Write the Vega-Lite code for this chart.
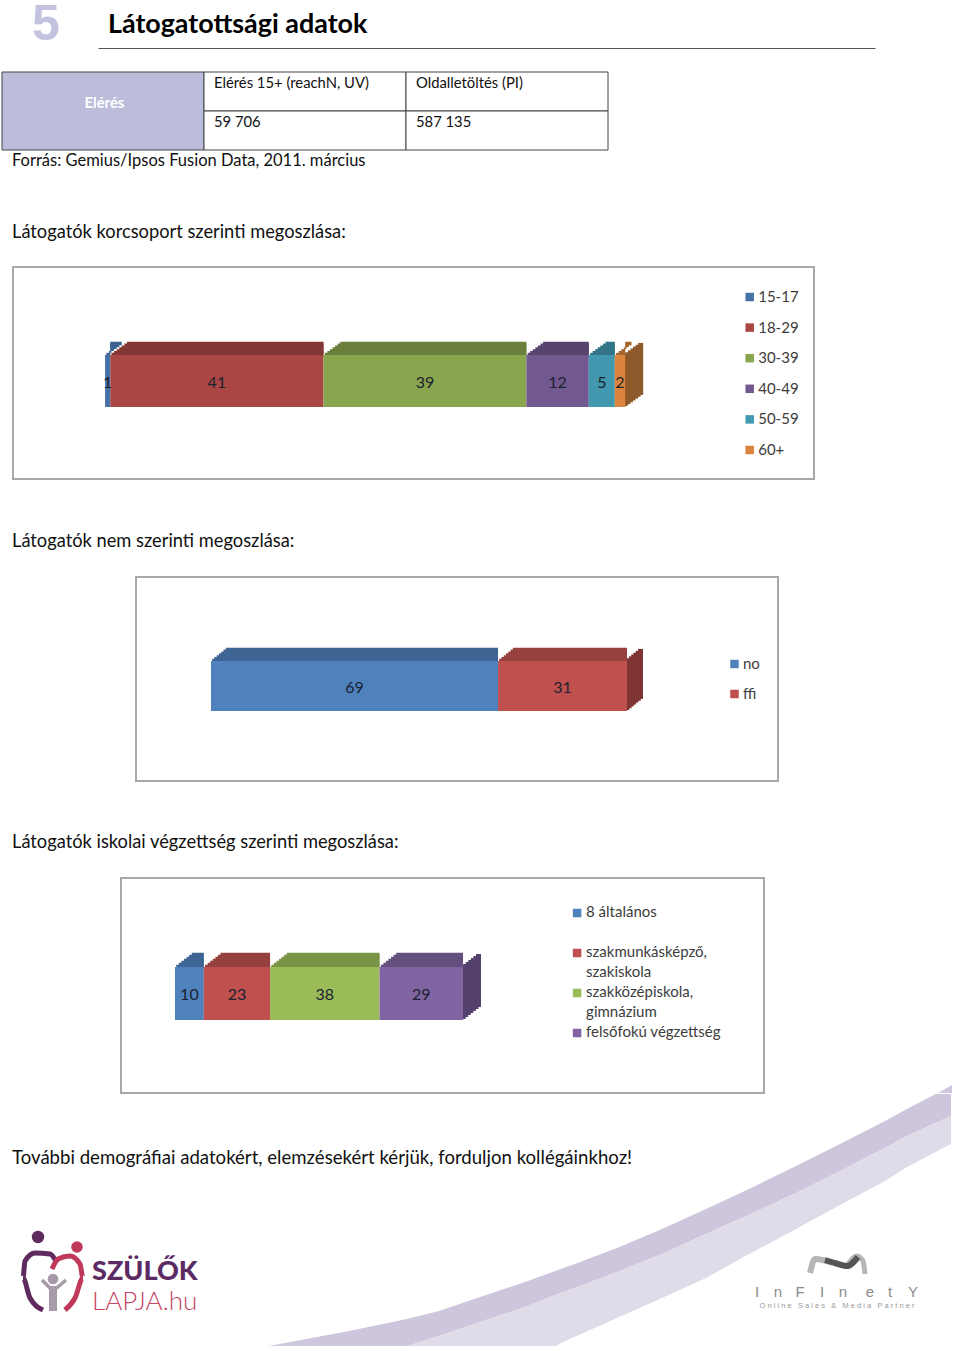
{"$schema":"https://vega.github.io/schema/vega-lite/v6.json","padding":0,"background":"white","spacing":0,
"resolve":{"scale":{"color":"independent","fill":"independent","size":"independent","y":"independent"}},
"config":{"font":"Lato","view":{"stroke":null},"tick":{"opacity":1},"bar":{"opacity":1},"square":{"opacity":1},"text":{"font":"Lato"}},
"vconcat":[
{"spacing":0,"hconcat":[
{"width":98,"height":48,"data":{"values":[{"t":"5"}]},"mark":{"type":"text","font":"Liberation Sans","fontWeight":"bold","fontSize":50,"color":"#C3C3DF","dx":-3,"dy":1,"clip":true},"encoding":{"text":{"field":"t"}}},
{"width":777,"height":48,"data":{"values":[{"t":"Látogatottsági adatok"}]},"mark":{"type":"text","align":"left","fontWeight":"bold","fontSize":26.9,"color":"#000","dx":10,"dy":1},"encoding":{"text":{"field":"t"},"x":{"datum":0,"type":"quantitative","scale":{"domain":[0,1]},"axis":{"domain":true,"domainColor":"#555","ticks":false,"labels":false,"grid":false,"title":null}}}}
]},
{"width":10,"height":23,"data":{"values":[{}]},"mark":{"type":"text"},"encoding":{"text":{"value":""}}},
{"spacing":0,"hconcat":[
{"width":1,"height":78,"data":{"values":[{}]},"mark":{"type":"text"},"encoding":{"text":{"value":""}}},
{"width":606,"height":78,"layer":[
{"data":{"values":[{"c0":0,"c1":1,"r0":0,"r1":2}]},"mark":{"type":"rect","fill":"#BCBDDB","stroke":"#444","strokeWidth":1},"encoding":{"x":{"field":"c0","type":"quantitative","scale":{"domain":[0,3]},"axis":null},"x2":{"field":"c1"},"y":{"field":"r0","type":"quantitative","scale":{"domain":[0,2],"reverse":true},"axis":null},"y2":{"field":"r1"}}},
{"data":{"values":[{"c0":1,"c1":2,"r0":0,"r1":1},{"c0":2,"c1":3,"r0":0,"r1":1},{"c0":1,"c1":2,"r0":1,"r1":2},{"c0":2,"c1":3,"r0":1,"r1":2}]},"mark":{"type":"rect","fill":"#fff","stroke":"#444","strokeWidth":1},"encoding":{"x":{"field":"c0","type":"quantitative","axis":null},"x2":{"field":"c1"},"y":{"field":"r0","type":"quantitative","axis":null},"y2":{"field":"r1"}}},
{"data":{"values":[{"c":1,"r":0,"t":"Elérés 15+ (reachN, UV)"},{"c":2,"r":0,"t":"Oldalletöltés (PI)"},{"c":1,"r":1,"t":"59 706"},{"c":2,"r":1,"t":"587 135"}]},"mark":{"type":"text","align":"left","baseline":"middle","fontSize":14.8,"color":"#111","dx":10,"dy":12},"encoding":{"text":{"field":"t"},"x":{"field":"c","type":"quantitative","axis":null},"y":{"field":"r","type":"quantitative","axis":null}}},
{"data":{"values":[{"c":0.507,"r":0.81,"t":"Elérés"}]},"mark":{"type":"text","fontSize":14.8,"fontWeight":"bold","color":"#fff"},"encoding":{"text":{"field":"t"},"x":{"field":"c","type":"quantitative","axis":null},"y":{"field":"r","type":"quantitative","axis":null}}}
]}
]},
{"width":900,"height":20,"data":{"values":[{"t":"Forrás: Gemius/Ipsos Fusion Data, 2011. március"}]},"mark":{"type":"text","align":"left","fontSize":16.5,"color":"#111","dx":12},"encoding":{"text":{"field":"t"},"x":{"datum":0,"type":"quantitative","scale":{"domain":[0,1]},"axis":null}}},
{"width":10,"height":52,"data":{"values":[{}]},"mark":{"type":"text"},"encoding":{"text":{"value":""}}},
{"width":900,"height":20,"data":{"values":[{"t":"Látogatók korcsoport szerinti megoszlása:"}]},"mark":{"type":"text","align":"left","fontSize":18.3,"color":"#111","dx":12},"encoding":{"text":{"field":"t"},"x":{"datum":0,"type":"quantitative","scale":{"domain":[0,1]},"axis":null}}},
{"width":10,"height":23,"data":{"values":[{}]},"mark":{"type":"text"},"encoding":{"text":{"value":""}}},
{"spacing":0,"hconcat":[
{"width":12,"height":212,"data":{"values":[{}]},"mark":{"type":"text"},"encoding":{"text":{"value":""}}},
{"width":801,"height":212,"view":{"stroke":"#A8A8A8","strokeWidth":2},
"data":{"values":[{"g":"15-17","v":1,"o":1},{"g":"18-29","v":41,"o":2},{"g":"30-39","v":39,"o":3},{"g":"40-49","v":12,"o":4},{"g":"50-59","v":5,"o":5},{"g":"60+","v":2,"o":6}]},
"transform":[{"stack":"v","sort":[{"field":"o"}],"groupby":[],"as":["x0","x1"]}],
"layer":[
{"transform":[{"filter":"datum.o==6"}],"encoding":{"x":{"field":"x1","type":"quantitative","axis":null},"color":{"value":"#8F5A2B"}},"layer":[
{"mark":{"type":"tick","size":52,"thickness":5,"xOffset":15.49,"yOffset":-4.07}},{"mark":{"type":"tick","size":52,"thickness":5,"xOffset":12.92,"yOffset":-2.21}},{"mark":{"type":"tick","size":52,"thickness":5,"xOffset":10.35,"yOffset":-0.36}},{"mark":{"type":"tick","size":52,"thickness":5,"xOffset":7.78,"yOffset":1.5}},{"mark":{"type":"tick","size":52,"thickness":5,"xOffset":5.21,"yOffset":3.36}},{"mark":{"type":"tick","size":52,"thickness":5,"xOffset":2.64,"yOffset":5.21}},{"mark":{"type":"tick","size":52,"thickness":5,"xOffset":0.07,"yOffset":7.07}}]},
{"encoding":{"x":{"field":"x0","type":"quantitative","scale":{"domain":[-17.7,136.3],"nice":false,"zero":false},"axis":null},"x2":{"field":"x1"},"color":{"field":"g","type":"nominal","legend":null,"scale":{"domain":["15-17","18-29","30-39","40-49","50-59","60+"],"range":["#3B6290","#833634","#6B7F3D","#57446E","#327587","#A8662F"]}}},"layer":[
{"mark":{"type":"bar","size":3.6,"xOffset":16.71,"yOffset":-29.47}},{"mark":{"type":"bar","size":3.6,"xOffset":14.14,"yOffset":-27.61}},{"mark":{"type":"bar","size":3.6,"xOffset":11.57,"yOffset":-25.76}},{"mark":{"type":"bar","size":3.6,"xOffset":9,"yOffset":-23.9}},{"mark":{"type":"bar","size":3.6,"xOffset":6.43,"yOffset":-22.04}},{"mark":{"type":"bar","size":3.6,"xOffset":3.86,"yOffset":-20.19}},{"mark":{"type":"bar","size":3.6,"xOffset":1.29,"yOffset":-18.33}}]},
{"mark":{"type":"bar","size":52,"yOffset":8},"encoding":{"x":{"field":"x0","type":"quantitative","axis":null},"x2":{"field":"x1"},"fill":{"field":"g","type":"nominal","legend":null,"scale":{"domain":["15-17","18-29","30-39","40-49","50-59","60+"],"range":["#4572A7","#AA4643","#89A54E","#71588F","#4198AF","#DB843D"]}}}},
{"mark":{"type":"text","fontSize":16,"color":"#1b2230","yOffset":10},"encoding":{"x":{"field":"v","type":"quantitative","stack":"zero","bandPosition":0.5,"axis":null},"order":{"field":"o"},"detail":{"field":"g"},"text":{"field":"v"}}},
{"mark":{"type":"square","size":72,"filled":true},"encoding":{"x":{"datum":123.94,"type":"quantitative","axis":null},"y":{"field":"g","type":"nominal","axis":null,"scale":{"type":"point","padding":0,"domain":["15-17","18-29","30-39","40-49","50-59","60+"],"range":[30,183]}},"fill":{"field":"g","type":"nominal","legend":null}}},
{"mark":{"type":"text","align":"left","fontSize":15,"color":"#3c3c3c","dx":8.5},"encoding":{"x":{"datum":123.94,"type":"quantitative","axis":null},"y":{"field":"g","type":"nominal","axis":null},"text":{"field":"g"}}}
]}
]},
{"width":10,"height":52,"data":{"values":[{}]},"mark":{"type":"text"},"encoding":{"text":{"value":""}}},
{"width":900,"height":20,"data":{"values":[{"t":"Látogatók nem szerinti megoszlása:"}]},"mark":{"type":"text","align":"left","fontSize":18.3,"color":"#111","dx":12},"encoding":{"text":{"field":"t"},"x":{"datum":0,"type":"quantitative","scale":{"domain":[0,1]},"axis":null}}},
{"width":10,"height":24,"data":{"values":[{}]},"mark":{"type":"text"},"encoding":{"text":{"value":""}}},
{"spacing":0,"hconcat":[
{"width":135,"height":204,"data":{"values":[{}]},"mark":{"type":"text"},"encoding":{"text":{"value":""}}},
{"width":642,"height":204,"view":{"stroke":"#A8A8A8","strokeWidth":2},
"data":{"values":[{"g":"no","v":69,"o":1},{"g":"ffi","v":31,"o":2}]},
"transform":[{"stack":"v","sort":[{"field":"o"}],"groupby":[],"as":["x0","x1"]}],
"layer":[
{"transform":[{"filter":"datum.o==2"}],"encoding":{"x":{"field":"x1","type":"quantitative","axis":null},"color":{"value":"#7F3532"}},"layer":[
{"mark":{"type":"tick","size":50,"thickness":5,"xOffset":13.5,"yOffset":-5.07}},{"mark":{"type":"tick","size":50,"thickness":5,"xOffset":11.21,"yOffset":-3.21}},{"mark":{"type":"tick","size":50,"thickness":5,"xOffset":8.93,"yOffset":-1.36}},{"mark":{"type":"tick","size":50,"thickness":5,"xOffset":6.64,"yOffset":0.5}},{"mark":{"type":"tick","size":50,"thickness":5,"xOffset":4.36,"yOffset":2.36}},{"mark":{"type":"tick","size":50,"thickness":5,"xOffset":2.07,"yOffset":4.21}},{"mark":{"type":"tick","size":50,"thickness":5,"xOffset":-0.21,"yOffset":6.07}}]},
{"encoding":{"x":{"field":"x0","type":"quantitative","scale":{"domain":[-18.03,136.3],"nice":false,"zero":false},"axis":null},"x2":{"field":"x1"},"color":{"field":"g","type":"nominal","legend":null,"scale":{"domain":["no","ffi"],"range":["#3E6594","#964040"]}}},"layer":[
{"mark":{"type":"bar","size":3.6,"xOffset":14.86,"yOffset":-29.47}},{"mark":{"type":"bar","size":3.6,"xOffset":12.57,"yOffset":-27.61}},{"mark":{"type":"bar","size":3.6,"xOffset":10.29,"yOffset":-25.76}},{"mark":{"type":"bar","size":3.6,"xOffset":8,"yOffset":-23.9}},{"mark":{"type":"bar","size":3.6,"xOffset":5.71,"yOffset":-22.04}},{"mark":{"type":"bar","size":3.6,"xOffset":3.43,"yOffset":-20.19}},{"mark":{"type":"bar","size":3.6,"xOffset":1.14,"yOffset":-18.33}}]},
{"mark":{"type":"bar","size":50,"yOffset":7},"encoding":{"x":{"field":"x0","type":"quantitative","axis":null},"x2":{"field":"x1"},"fill":{"field":"g","type":"nominal","legend":null,"scale":{"domain":["no","ffi"],"range":["#4F81BD","#C0504D"]}}}},
{"mark":{"type":"text","fontSize":16,"color":"#1b2230","yOffset":9},"encoding":{"x":{"field":"v","type":"quantitative","stack":"zero","bandPosition":0.5,"axis":null},"order":{"field":"o"},"detail":{"field":"g"},"text":{"field":"v"}}},
{"mark":{"type":"square","size":72,"filled":true},"encoding":{"x":{"datum":125.84,"type":"quantitative","axis":null},"y":{"field":"g","type":"nominal","axis":null,"scale":{"type":"point","padding":0,"domain":["no","ffi"],"range":[87,117]}},"fill":{"field":"g","type":"nominal","legend":null}}},
{"mark":{"type":"text","align":"left","fontSize":15,"color":"#3c3c3c","dx":8.5},"encoding":{"x":{"datum":125.84,"type":"quantitative","axis":null},"y":{"field":"g","type":"nominal","axis":null},"text":{"field":"g"}}}
]}
]},
{"width":10,"height":51,"data":{"values":[{}]},"mark":{"type":"text"},"encoding":{"text":{"value":""}}},
{"width":900,"height":20,"data":{"values":[{"t":"Látogatók iskolai végzettség szerinti megoszlása:"}]},"mark":{"type":"text","align":"left","fontSize":18.3,"color":"#111","dx":12},"encoding":{"text":{"field":"t"},"x":{"datum":0,"type":"quantitative","scale":{"domain":[0,1]},"axis":null}}},
{"width":10,"height":24,"data":{"values":[{}]},"mark":{"type":"text"},"encoding":{"text":{"value":""}}},
{"spacing":0,"hconcat":[
{"width":120,"height":215,"data":{"values":[{}]},"mark":{"type":"text"},"encoding":{"text":{"value":""}}},
{"width":643,"height":215,"view":{"stroke":"#A8A8A8","strokeWidth":2},
"data":{"values":[{"g":"8 általános","v":10,"o":1},{"g":"szakmunkásképző,\nszakiskola","v":23,"o":2},{"g":"szakközépiskola,\ngimnázium","v":38,"o":3},{"g":"felsőfokú végzettség","v":29,"o":4}]},
"transform":[{"stack":"v","sort":[{"field":"o"}],"groupby":[],"as":["x0","x1"]}],
"layer":[
{"transform":[{"filter":"datum.o==4"}],"encoding":{"x":{"field":"x1","type":"quantitative","axis":null},"color":{"value":"#54416D"}},"layer":[
{"mark":{"type":"tick","size":53,"thickness":5,"xOffset":15.49,"yOffset":-5}},{"mark":{"type":"tick","size":53,"thickness":5,"xOffset":12.92,"yOffset":-3}},{"mark":{"type":"tick","size":53,"thickness":5,"xOffset":10.35,"yOffset":-1}},{"mark":{"type":"tick","size":53,"thickness":5,"xOffset":7.78,"yOffset":1}},{"mark":{"type":"tick","size":53,"thickness":5,"xOffset":5.21,"yOffset":3}},{"mark":{"type":"tick","size":53,"thickness":5,"xOffset":2.64,"yOffset":5}},{"mark":{"type":"tick","size":53,"thickness":5,"xOffset":0.07,"yOffset":7}}]},
{"encoding":{"x":{"field":"x0","type":"quantitative","scale":{"domain":[-18.75,204.5],"nice":false,"zero":false},"axis":null},"x2":{"field":"x1"},"color":{"field":"o","type":"nominal","legend":null,"scale":{"domain":[1,2,3,4],"range":["#3E6594","#964040","#7A9346","#64507F"]}}},"layer":[
{"mark":{"type":"bar","size":3.7,"xOffset":16.71,"yOffset":-30.9}},{"mark":{"type":"bar","size":3.7,"xOffset":14.14,"yOffset":-28.9}},{"mark":{"type":"bar","size":3.7,"xOffset":11.57,"yOffset":-26.9}},{"mark":{"type":"bar","size":3.7,"xOffset":9,"yOffset":-24.9}},{"mark":{"type":"bar","size":3.7,"xOffset":6.43,"yOffset":-22.9}},{"mark":{"type":"bar","size":3.7,"xOffset":3.86,"yOffset":-20.9}},{"mark":{"type":"bar","size":3.7,"xOffset":1.29,"yOffset":-18.9}}]},
{"mark":{"type":"bar","size":53,"yOffset":8},"encoding":{"x":{"field":"x0","type":"quantitative","axis":null},"x2":{"field":"x1"},"fill":{"field":"o","type":"nominal","legend":null,"scale":{"domain":[1,2,3,4],"range":["#4F81BD","#C0504D","#9BBB59","#8064A2"]}}}},
{"mark":{"type":"text","fontSize":16,"color":"#1b2230","yOffset":9},"encoding":{"x":{"field":"v","type":"quantitative","stack":"zero","bandPosition":0.5,"axis":null},"order":{"field":"o"},"detail":{"field":"o"},"text":{"field":"v"}}},
{"mark":{"type":"square","size":72,"filled":true},"encoding":{"x":{"datum":139.6,"type":"quantitative","axis":null},"y":{"field":"o","type":"nominal","axis":null,"scale":{"type":"point","padding":0,"domain":[1,2,3,4],"range":[35,155]}},"fill":{"field":"o","type":"nominal","legend":null}}},
{"mark":{"type":"text","align":"left","baseline":"top","lineBreak":"\n","lineHeight":20,"fontSize":15,"color":"#3c3c3c","dx":9,"dy":-8},"encoding":{"x":{"datum":139.6,"type":"quantitative","axis":null},"y":{"field":"o","type":"nominal","axis":null},"text":{"field":"g"}}}
]},
{"width":173,"height":215,"data":{"values":[{}]},"mark":{"type":"text"},"encoding":{"text":{"value":""}}},
{"width":15,"height":215,"data":{"values":[{"x":937,"u":258,"b":258},{"x":951,"u":266,"b":258}]},"mark":{"type":"area","color":"#CDC6DC"},"encoding":{"x":{"field":"x","type":"quantitative","scale":{"domain":[937,952],"nice":false,"zero":false},"axis":null},"y":{"field":"u","type":"quantitative","scale":{"domain":[258,473],"nice":false,"zero":false},"axis":null},"y2":{"field":"b"}}}
]},
{"width":960,"height":258,
"layer":[
{"data":{"name":"swoosh","values":[{"x":269,"u":6,"b":6,"l":6},{"x":349,"u":21,"b":6,"l":6},{"x":407,"u":33,"b":6,"l":6},{"x":439,"u":41,"b":16,"l":6},{"x":483,"u":56,"b":31,"l":6},{"x":528,"u":71,"b":46,"l":6},{"x":555,"u":81,"b":57,"l":6},{"x":572,"u":87,"b":63,"l":14},{"x":617,"u":104,"b":80,"l":34},{"x":662,"u":123,"b":98,"l":54},{"x":706,"u":143,"b":118,"l":74},{"x":751,"u":164,"b":138,"l":99},{"x":796,"u":186,"b":159,"l":123},{"x":840,"u":208,"b":181,"l":147},{"x":885,"u":231,"b":204,"l":171},{"x":907,"u":243,"b":216,"l":185},{"x":951,"u":266,"b":236,"l":208}]},"mark":{"type":"area","color":"#CDC6DC","clip":true},"encoding":{"x":{"field":"x","type":"quantitative","scale":{"domain":[0,960],"nice":false,"zero":false},"axis":null},"y":{"field":"u","type":"quantitative","scale":{"domain":[0,258],"nice":false,"zero":false},"axis":null},"y2":{"field":"b"}}},
{"data":{"name":"swoosh"},"mark":{"type":"area","color":"#E0DBE8","clip":true},"encoding":{"x":{"field":"x","type":"quantitative","axis":null},"y":{"field":"b","type":"quantitative","axis":null},"y2":{"field":"l"}}},
{"data":{"values":[{"x":0,"h":194,"t":"További demográfiai adatokért, elemzésekért kérjük, forduljon kollégáinkhoz!"}]},"mark":{"type":"text","align":"left","fontSize":18.6,"color":"#111","dx":12},"encoding":{"text":{"field":"t"},"x":{"field":"x","type":"quantitative","axis":null},"y":{"field":"h","type":"quantitative","axis":null}}},
{"data":{"values":[{"i":1,"x":43,"h":42},{"i":2,"x":30,"h":54},{"i":3,"x":23,"h":74},{"i":4,"x":25,"h":91},{"i":5,"x":35,"h":99},{"i":6,"x":50,"h":98},{"i":7,"x":57,"h":89}]},"mark":{"type":"line","interpolate":"monotone","color":"#5F2A5E","strokeWidth":5},"encoding":{"x":{"field":"x","type":"quantitative","axis":null},"y":{"field":"h","type":"quantitative","axis":null},"order":{"field":"i"}}},
{"data":{"values":[{"i":1,"x":65,"h":42},{"i":2,"x":75,"h":54},{"i":3,"x":83,"h":74},{"i":4,"x":80,"h":88},{"i":5,"x":70,"h":96},{"i":6,"x":58,"h":93},{"i":7,"x":52,"h":83}]},"mark":{"type":"line","interpolate":"monotone","color":"#C0395A","strokeWidth":5},"encoding":{"x":{"field":"x","type":"quantitative","axis":null},"y":{"field":"h","type":"quantitative","axis":null},"order":{"field":"i"}}},
{"data":{"values":[{"i":1,"x":42,"h":72},{"i":2,"x":53,"h":61},{"i":3,"x":66,"h":72}]},"mark":{"type":"line","color":"#A89AA8","strokeWidth":3.5},"encoding":{"x":{"field":"x","type":"quantitative","axis":null},"y":{"field":"h","type":"quantitative","axis":null},"order":{"field":"i"}}},
{"data":{"values":[{"i":1,"x":53,"h":66},{"i":2,"x":53,"h":41}]},"mark":{"type":"line","color":"#A89AA8","strokeWidth":8},"encoding":{"x":{"field":"x","type":"quantitative","axis":null},"y":{"field":"h","type":"quantitative","axis":null},"order":{"field":"i"}}},
{"data":{"values":[{"x":38,"h":115,"p":"a"},{"x":77,"h":105,"p":"b"},{"x":53,"h":73,"p":"c"}]},"mark":{"type":"circle","opacity":1},"encoding":{"x":{"field":"x","type":"quantitative","axis":null},"y":{"field":"h","type":"quantitative","axis":null},"size":{"field":"p","type":"nominal","scale":{"domain":["a","b","c"],"range":[154,113,78]},"legend":null},"color":{"field":"p","type":"nominal","scale":{"domain":["a","b","c"],"range":["#5F2A5E","#C0395A","#A89AA8"]},"legend":null}}},
{"data":{"values":[{"x":92,"h":80,"t":"SZÜLŐK"}]},"mark":{"type":"text","align":"left","fontSize":27,"fontWeight":900,"color":"#5D2B63"},"encoding":{"text":{"field":"t"},"x":{"field":"x","type":"quantitative","axis":null},"y":{"field":"h","type":"quantitative","axis":null}}},
{"data":{"values":[{"x":92,"h":50,"t":"LAPJA.hu"}]},"mark":{"type":"text","align":"left","fontSize":26,"fontWeight":300,"color":"#C2445F"},"encoding":{"text":{"field":"t"},"x":{"field":"x","type":"quantitative","axis":null},"y":{"field":"h","type":"quantitative","axis":null}}},
{"data":{"values":[{"i":1,"x":810,"h":79},{"i":2,"x":815,"h":93},{"i":3,"x":833,"h":89}]},"mark":{"type":"line","interpolate":"monotone","color":"#B5B5B5","strokeWidth":6},"encoding":{"x":{"field":"x","type":"quantitative","axis":null},"y":{"field":"h","type":"quantitative","axis":null},"order":{"field":"i"}}},
{"data":{"values":[{"i":1,"x":847,"h":86},{"i":2,"x":857,"h":96},{"i":3,"x":863,"h":91},{"i":4,"x":865,"h":78}]},"mark":{"type":"line","interpolate":"monotone","color":"#B5B5B5","strokeWidth":5},"encoding":{"x":{"field":"x","type":"quantitative","axis":null},"y":{"field":"h","type":"quantitative","axis":null},"order":{"field":"i"}}},
{"data":{"values":[{"i":1,"x":825,"h":92},{"i":2,"x":835,"h":89},{"i":3,"x":847,"h":86},{"i":4,"x":858,"h":95}]},"mark":{"type":"line","interpolate":"monotone","color":"#555","strokeWidth":6},"encoding":{"x":{"field":"x","type":"quantitative","axis":null},"y":{"field":"h","type":"quantitative","axis":null},"order":{"field":"i"}}},
{"data":{"values":[{"c":"I","x":757},{"c":"n","x":778},{"c":"F","x":800},{"c":"I","x":822},{"c":"n","x":843},{"c":"e","x":870},{"c":"t","x":890},{"c":"Y","x":913}]},"mark":{"type":"text","font":"Liberation Sans","fontSize":15,"color":"#8C8C8C"},"encoding":{"text":{"field":"c"},"x":{"field":"x","type":"quantitative","axis":null},"y":{"datum":60,"type":"quantitative","axis":null}}},
{"data":{"values":[{"x":837,"h":46,"t":"O n l i n e\u00a0\u00a0\u00a0S a l e s\u00a0\u00a0\u00a0&\u00a0\u00a0\u00a0M e d i a\u00a0\u00a0\u00a0P a r t n e r"}]},"mark":{"type":"text","font":"Liberation Sans","fontSize":7.5,"color":"#9A9A9A"},"encoding":{"text":{"field":"t"},"x":{"field":"x","type":"quantitative","axis":null},"y":{"field":"h","type":"quantitative","axis":null}}}
]}
]}
